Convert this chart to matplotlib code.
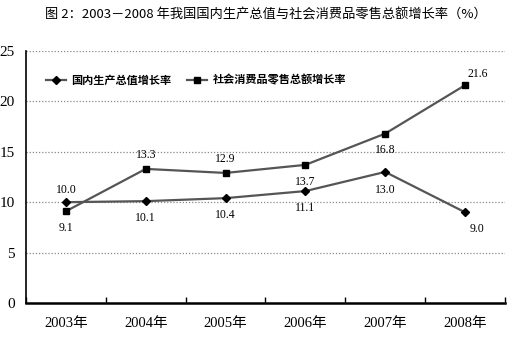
import matplotlib
matplotlib.use("Agg")
import matplotlib.pyplot as plt

plt.rcParams['font.family'] = ['Noto Sans CJK SC', 'DejaVu Sans']

years = ['2003年', '2004年', '2005年', '2006年', '2007年', '2008年']
gdp_growth = [10.0, 10.1, 10.4, 11.1, 13.0, 9.0]
retail_growth = [9.1, 13.3, 12.9, 13.7, 16.8, 21.6]
gdp_name = '国内生产总值增长率'
retail_name = '社会消费品零售总额增长率'
title = '图 2：2003－2008 年我国国内生产总值与社会消费品零售总额增长率（%）'

# label placement: (dx points, dy points) for each point
gdp_offsets = [(0, 9), (0, -12), (0, -12), (0, -12), (0, -13), (9, -12)]
retail_offsets = [(0, -12), (0, 10), (0, 10), (0, -12), (0, -12), (9, 8)]

serif = ['Liberation Serif', 'Noto Sans CJK SC']

fig = plt.figure(figsize=(5.21, 3.40), dpi=100)
ax = fig.add_axes([0.05, 0.109, 0.919, 0.741])

x = list(range(len(years)))
ax.plot(x, gdp_growth, color='#555555', lw=1.6, marker='D', ms=4.5,
        mfc='black', mec='black', label=gdp_name)
ax.plot(x, retail_growth, color='#555555', lw=1.6, marker='s', ms=4.5,
        mfc='black', mec='black', label=retail_name)

for xi, v, (dx, dy) in zip(x, gdp_growth, gdp_offsets):
    ax.annotate(f'{v:.1f}', (xi, v), xytext=(dx, dy), textcoords='offset points',
                ha='center', va='center', fontsize=8.5, family=serif)
for xi, v, (dx, dy) in zip(x, retail_growth, retail_offsets):
    ax.annotate(f'{v:.1f}', (xi, v), xytext=(dx, dy), textcoords='offset points',
                ha='center', va='center', fontsize=8.5, family=serif)

ax.set_xlim(-0.5, len(years) - 0.5)
ax.set_ylim(0, 25)
ax.set_yticks([0, 5, 10, 15, 20, 25])
ax.grid(axis='y', linestyle=(0, (1, 1.5)), color='#888888', lw=0.9)
ax.set_axisbelow(True)

# category labels centred, ticks at category boundaries
ax.set_xticks(x)
ax.set_xticklabels(years, family=serif, fontsize=10.5)
ax.tick_params(axis='x', length=0, pad=10)
ax.set_xticks([i - 0.5 for i in range(len(years) + 1)], minor=True)
ax.tick_params(axis='x', which='minor', direction='in', length=4, width=1)
ax.tick_params(axis='y', length=0, pad=8, labelsize=11)
for lab in ax.get_yticklabels():
    lab.set_family(serif)

for s in ['top', 'right']:
    ax.spines[s].set_visible(False)
ax.spines['left'].set_linewidth(1.2)
ax.spines['bottom'].set_linewidth(1.8)

leg = ax.legend(loc='upper left', ncol=2, frameon=False,
                prop={'size': 8, 'weight': 'bold'},
                bbox_to_anchor=(0.02, 0.95), handlelength=1.8,
                handletextpad=0.5, columnspacing=1.4)

fig.text(0.51, 0.955, title, ha='center', va='center', fontsize=9.5)

fig.savefig('out.png', dpi=100)
